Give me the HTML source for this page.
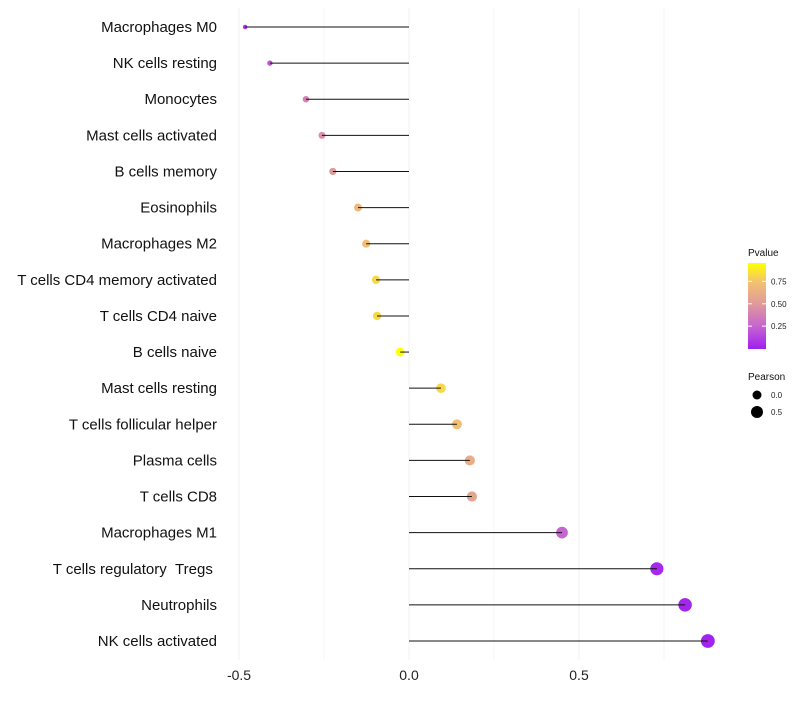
<!DOCTYPE html>
<html><head><meta charset="utf-8"><style>
body{margin:0;background:#fff;font-family:"Liberation Sans",sans-serif}
</style></head><body>
<svg id="chart" width="800" height="700" xmlns="http://www.w3.org/2000/svg" font-family="Liberation Sans, sans-serif"></svg>
<script>
const categories=["Macrophages M0","NK cells resting","Monocytes","Mast cells activated","B cells memory","Eosinophils","Macrophages M2","T cells CD4 memory activated","T cells CD4 naive","B cells naive","Mast cells resting","T cells follicular helper","Plasma cells","T cells CD8","Macrophages M1","T cells regulatory \u00a0Tregs\u00a0","Neutrophils","NK cells activated"];
const pearson=[-0.482,-0.409,-0.303,-0.256,-0.224,-0.15,-0.126,-0.097,-0.094,-0.026,0.094,0.141,0.179,0.185,0.45,0.729,0.812,0.879];
const pvalues=[0.08,0.2,0.38,0.45,0.5,0.68,0.72,0.82,0.82,0.95,0.82,0.72,0.62,0.56,0.25,0.03,0.02,0.01];
const xTicks=[-0.5,0,0.5];
const xTickLabels=["-0.5","0.0","0.5"];
const pTicks=[0.25,0.5,0.75];
const NS="http://www.w3.org/2000/svg";
const svg=document.getElementById('chart');
function X(v){return 409+v*340;}
function Y(i){return 27+i*(614/17);}
function mk(t,a,p){const e=document.createElementNS(NS,t);for(const k in a)e.setAttribute(k,a[k]);(p||svg).appendChild(e);return e;}
const cstops=[[0,[160,32,240]],[0.25,[198,101,208]],[0.5,[224,154,154]],[0.75,[243,195,111]],[0.95,[255,255,0]]];
function col(p){p=Math.max(0,Math.min(0.95,p));for(let i=1;i<cstops.length;i++){if(p<=cstops[i][0]){const a=cstops[i-1],b=cstops[i];const t=(p-a[0])/(b[0]-a[0]);const c=a[1].map((v,j)=>Math.round(v+(b[1][j]-v)*t));return 'rgb('+c.join(',')+')';}}return 'rgb(255,255,0)';}
function rad(v){return Math.sqrt(Math.max(1,20.25+31.5*v));}
[-0.25,0.25,0.75].forEach(v=>{const g=mk('line',{x1:X(v),x2:X(v),y1:8,y2:660,stroke:'#f4f4f4','stroke-width':1});

});
xTicks.forEach((v,i)=>{const g=mk('line',{x1:X(v),x2:X(v),y1:8,y2:660,stroke:'#f1f1f1','stroke-width':1});


const t=mk('text',{x:X(v),y:680,'text-anchor':'middle','font-size':14,fill:'#222'});t.textContent=xTickLabels[i];

});
categories.forEach((c,i)=>{
const t=mk('text',{x:217,y:Y(i)+5,'text-anchor':'end','font-size':15,fill:'#111'});t.textContent=c;


const d=mk('circle',{cx:X(pearson[i]),cy:Y(i),r:rad(pearson[i]),fill:col(pvalues[i])});


const l=mk('line',{x1:X(0),x2:X(pearson[i]),y1:Y(i),y2:Y(i),stroke:'#111','stroke-width':1});


});
const defs=mk('defs',{});const lg=mk('linearGradient',{id:'pg',x1:0,y1:1,x2:0,y2:0},defs);
const cbTop=263,cbBot=349,cbHi=0.955,cbLo=-0.005;
cstops.forEach(s=>{mk('stop',{offset:((s[0]-cbLo)/(cbHi-cbLo)),'stop-color':'rgb('+s[1].join(',')+')'},lg);});
let tl=mk('text',{x:748,y:256,'font-size':10,fill:'#111'});tl.textContent='Pvalue';


const bar=mk('rect',{x:748,y:cbTop,width:18,height:cbBot-cbTop,fill:'url(#pg)'});


pTicks.forEach(p=>{const y=cbBot-(p-cbLo)/(cbHi-cbLo)*(cbBot-cbTop);mk('line',{x1:748,x2:752,y1:y,y2:y,stroke:'#fff'});mk('line',{x1:762,x2:766,y1:y,y2:y,stroke:'#fff'});
const tt=mk('text',{x:771,y:y+3,'font-size':8,fill:'#222'});tt.textContent=p.toFixed(2);

});
tl=mk('text',{x:748,y:380,'font-size':10,fill:'#111'});tl.textContent='Pearson';


[[0,395,'0.0'],[0.5,412,'0.5']].forEach(a=>{const c=mk('circle',{cx:757,cy:a[1],r:rad(a[0]),fill:'#000'});


const tt=mk('text',{x:771,y:a[1]+3,'font-size':8,fill:'#222'});tt.textContent=a[2];

});
</script>
</body></html>
